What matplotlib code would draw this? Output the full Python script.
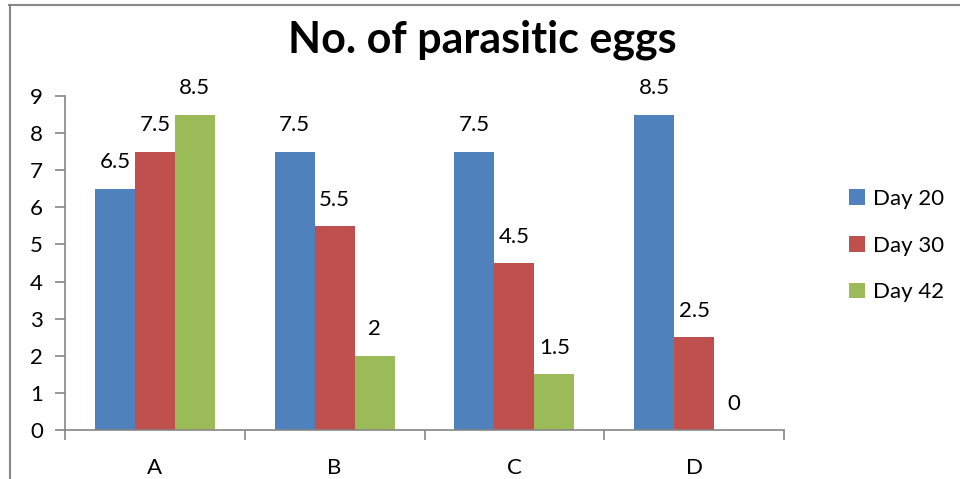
import numpy as np
import matplotlib
matplotlib.use("Agg")
import matplotlib.pyplot as plt
from matplotlib.lines import Line2D

# ── Data ─────────────────────────────────────────────
categories = ["A", "B", "C", "D"]
series_names = ["Day 20", "Day 30", "Day 42"]
day20 = [6.5, 7.5, 7.5, 8.5]
day30 = [7.5, 5.5, 4.5, 2.5]
day42 = [8.5, 2.0, 1.5, 0.0]
colors = ["#4F81BD", "#C0504D", "#9BBB59"]

plt.rcParams["font.family"] = ["Lato", "DejaVu Sans"]
axis_grey = "#868686"

fig = plt.figure(figsize=(9.6, 4.79), dpi=100)
ax = fig.add_axes([65 / 960, 1 - 430 / 479, (784 - 65) / 960, (430 - 96) / 479])

x = np.arange(len(categories))
w = 0.2225
for i, (vals, name, c) in enumerate(zip([day20, day30, day42], series_names, colors)):
    pos = x + (i - 1) * w
    ax.bar(pos, vals, width=w, color=c, label=name, linewidth=0)
    for px, v in zip(pos, vals):
        lab = f"{v:g}"
        ax.annotate(lab, (px, v), xytext=(0, 19), textcoords="offset points",
                    ha="center", va="center", fontsize=16)

ax.set_xlim(-0.5, len(categories) - 0.5)
ax.set_ylim(0, 9)
ax.set_yticks(range(0, 10))

# category boundaries as major ticks, labels on minor ticks
ax.set_xticks(np.arange(-0.5, len(categories)), labels=[])
ax.set_xticks(x, labels=categories, minor=True)
ax.tick_params(axis="x", which="major", direction="out", length=7, width=1.2, color=axis_grey)
ax.tick_params(axis="x", which="minor", length=0, pad=20, labelsize=16)
ax.tick_params(axis="y", direction="out", length=7, width=1.2, color=axis_grey, pad=9, labelsize=16)

for s in ["top", "right"]:
    ax.spines[s].set_visible(False)
for s in ["left", "bottom"]:
    ax.spines[s].set_color(axis_grey)
    ax.spines[s].set_linewidth(1.2)

fig.text(482 / 960, 1 - 40 / 479, "No. of parasitic eggs", ha="center", va="center",
         fontsize=31, fontweight="bold")

leg = fig.legend(loc="upper left", bbox_to_anchor=(849 / 960, 1 - 189 / 479),
                 frameon=False, fontsize=16, handlelength=0.7, handleheight=0.7,
                 handletextpad=0.4, labelspacing=1.2, borderaxespad=0, borderpad=0)

# outer chart border (cut off at right and bottom)
fig.add_artist(Line2D([9 / 960, 1], [1 - 4.5 / 479] * 2, color="#878787", lw=1.5,
                      transform=fig.transFigure))
fig.add_artist(Line2D([9.5 / 960] * 2, [0, 1 - 4.5 / 479], color="#878787", lw=1.5,
                      transform=fig.transFigure))

fig.savefig("out.png", dpi=100)
